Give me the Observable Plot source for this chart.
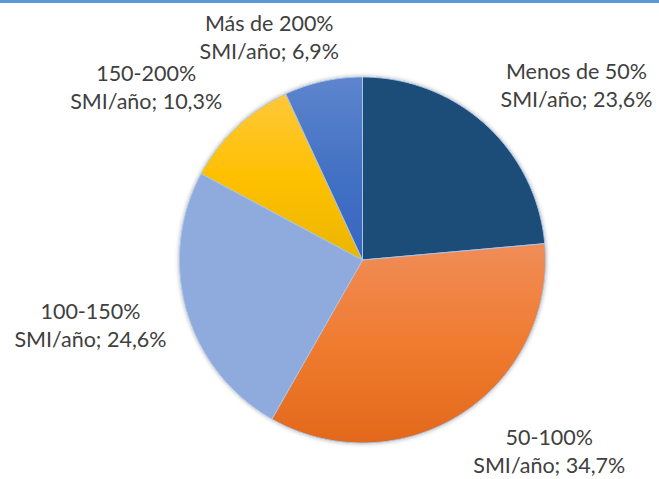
<!DOCTYPE html>
<html><head><meta charset="utf-8">
<script src="https://cdn.jsdelivr.net/npm/d3@7"></script>
<script src="https://cdn.jsdelivr.net/npm/@observablehq/plot@0.6"></script>
<style>
body{margin:0;background:#fff;}
#wrap{position:relative;width:659px;height:479px;overflow:hidden;}
#bar{position:absolute;left:0;top:0;width:659px;height:3px;background:#5B9BD5;}
</style>
</head><body>
<div id="wrap"><div id="bar"></div></div>
<script>
// ---- data ----
const categories = ["Menos de 50%", "50-100%", "100-150%", "150-200%", "Más de 200%"];
const unitLabel = "SMI/año";
const shares = [23.6, 34.7, 24.6, 10.3, 6.9];
const shareLabels = ["23,6%", "34,7%", "24,6%", "10,3%", "6,9%"];
// gradient stops (top, middle, bottom) per slice
const sliceColors = [
  ["#1F4E79", "#1F4E79", "#1F4E79"],
  ["#F08D58", "#F07B30", "#E2691B"],
  ["#8FAADC", "#8FAADC", "#8FAADC"],
  ["#FFC83C", "#FFC000", "#EAB600"],
  ["#5E85CD", "#4472C4", "#3766C0"]
];

// ---- layout ----
const W = 659, H = 479;
const R = 183, CX = 362, CY = 259.5;

const total = d3.sum(shares);
let acc = 0;
const slices = shares.map((v, i) => {
  const a0 = acc / total * 2 * Math.PI;
  acc += v;
  const a1 = acc / total * 2 * Math.PI;
  return {i, a0, a1, mid: (a0 + a1) / 2};
});

// polygon points (unit radius) for each slice
const pts = [];
for (const s of slices) {
  pts.push({k: s.i, x: 0, y: 0});
  const n = Math.max(2, Math.ceil((s.a1 - s.a0) / (Math.PI / 360)));
  for (let j = 0; j <= n; j++) {
    const a = s.a0 + (s.a1 - s.a0) * j / n;
    pts.push({k: s.i, x: Math.sin(a), y: Math.cos(a)});
  }
  pts.push({k: s.i, x: 0, y: 0});
}

// label placement (outside end, Excel-like)
const gap = 20, hw = 77, hh = 26, lift = 7;
const clamp = v => Math.max(-1, Math.min(1, v));
const labels = slices.map(s => {
  const sx = Math.sin(s.mid), sy = Math.cos(s.mid);
  const px = (R + gap) * sx + hw * clamp(sx * 3);
  const py = (R + gap) * sy + hh * clamp(sy * 2) + (sy < 0 ? lift : 0);
  return {x: px / R, y: py / R, text: `${categories[s.i]}\n${unitLabel}; ${shareLabels[s.i]}`};
});

const chart = Plot.plot({
  width: W, height: H,
  margin: 0,
  x: {domain: [-CX / R, (W - CX) / R], axis: null},
  y: {domain: [-(H - CY) / R, CY / R], axis: null},
  color: {type: "identity"},
  style: {background: "transparent", overflow: "visible"},
  marks: [
    Plot.line(pts, {x: "x", y: "y", z: "k", fill: d => `url(#grad${d.k})`, stroke: "#A9C4EA", strokeWidth: 1, curve: "linear"}),
    Plot.text(labels, {x: "x", y: "y", text: "text", fontSize: 21.5, lineHeight: 1.3, fill: "#404040", fontFamily: "Lato, 'Open Sans', sans-serif"})
  ]
});

const defs = d3.create("svg:defs");
sliceColors.forEach((c, i) => {
  const g = defs.append("linearGradient").attr("id", `grad${i}`).attr("x1", 0).attr("y1", 0).attr("x2", 0).attr("y2", 1);
  g.append("stop").attr("offset", "0%").attr("stop-color", c[0]);
  g.append("stop").attr("offset", "50%").attr("stop-color", c[1]);
  g.append("stop").attr("offset", "100%").attr("stop-color", c[2]);
});
const f = defs.append("filter").attr("id", "pieShadow").attr("x", "-10%").attr("y", "-10%").attr("width", "120%").attr("height", "120%");
f.append("feDropShadow").attr("dx", 0).attr("dy", 0).attr("stdDeviation", 2.2).attr("flood-color", "#000").attr("flood-opacity", 0.35);
chart.insertBefore(defs.node(), chart.firstChild);
const lineGroup = chart.querySelector('g[aria-label="line"]');
if (lineGroup) lineGroup.setAttribute("filter", "url(#pieShadow)");
chart.style.position = "absolute";
chart.style.left = "0";
chart.style.top = "0";
document.getElementById("wrap").appendChild(chart);
document.getElementById("wrap").appendChild(document.getElementById("bar"));
</script>
</body></html>
